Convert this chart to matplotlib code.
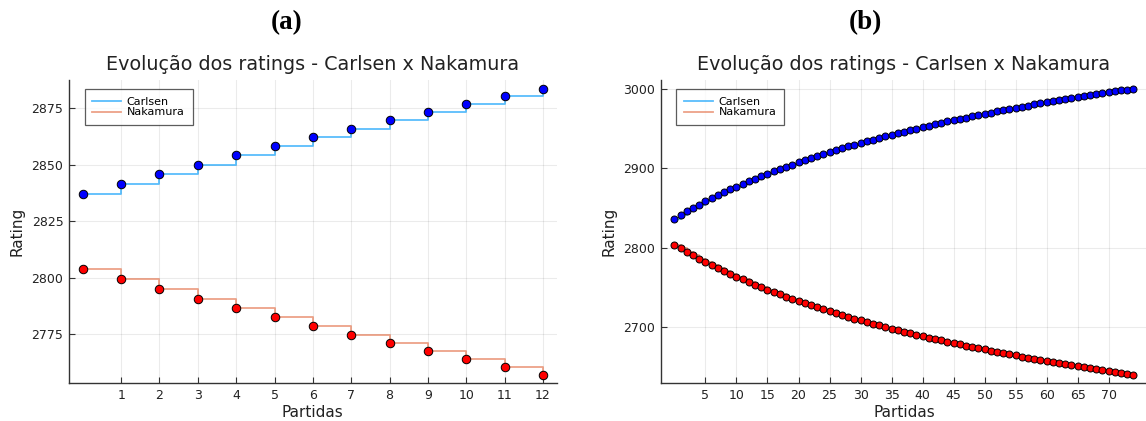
import matplotlib.pyplot as plt

# ratings game by game, Carlsen wins every game
carlsen = [2837.0, 2841.5, 2845.9, 2850.2, 2854.4, 2858.4, 2862.3, 2866.1, 2869.9, 2873.5,
           2877.0, 2880.4, 2883.8, 2887.0, 2890.2, 2893.3, 2896.3, 2899.3, 2902.1, 2904.9,
           2907.7, 2910.4, 2913.0, 2915.5, 2918.1, 2920.5, 2922.9, 2925.3, 2927.6, 2929.8,
           2932.0, 2934.2, 2936.3, 2938.4, 2940.5, 2942.5, 2944.4, 2946.4, 2948.3, 2950.1,
           2952.0, 2953.8, 2955.6, 2957.3, 2959.0, 2960.7, 2962.4, 2964.0, 2965.6, 2967.2,
           2968.8, 2970.3, 2971.8, 2973.3, 2974.8, 2976.2, 2977.6, 2979.0, 2980.4, 2981.8,
           2983.2, 2984.5, 2985.8, 2987.1, 2988.4, 2989.6, 2990.9, 2992.1, 2993.4, 2994.6,
           2995.7, 2996.9, 2998.1, 2999.2, 3000.4]
nakamura = [2804.0, 2799.5, 2795.1, 2790.8, 2786.6, 2782.6, 2778.7, 2774.9, 2771.1, 2767.5,
            2764.0, 2760.6, 2757.2, 2754.0, 2750.8, 2747.7, 2744.7, 2741.8, 2738.9, 2736.1,
            2733.3, 2730.6, 2728.0, 2725.5, 2722.9, 2720.5, 2718.1, 2715.7, 2713.4, 2711.2,
            2709.0, 2706.8, 2704.7, 2702.6, 2700.5, 2698.5, 2696.6, 2694.6, 2692.7, 2690.9,
            2689.0, 2687.2, 2685.4, 2683.7, 2682.0, 2680.3, 2678.6, 2677.0, 2675.4, 2673.8,
            2672.3, 2670.7, 2669.2, 2667.7, 2666.2, 2664.8, 2663.4, 2662.0, 2660.6, 2659.2,
            2657.8, 2656.5, 2655.2, 2653.9, 2652.6, 2651.4, 2650.1, 2648.9, 2647.7, 2646.5,
            2645.3, 2644.1, 2642.9, 2641.8, 2640.6]

n_a = 13  # panel (a) shows the first 12 games
xticks_a = list(range(1, 13))
yticks_a = [2775, 2800, 2825, 2850, 2875]
xticks_b = list(range(5, 75, 5))
yticks_b = [2700, 2800, 2900, 3000]

c_line = "#009AFA"
n_line = "#E36F47"
txt = "#222222"

fig = plt.figure(figsize=(11.46, 4.21), dpi=100)
ax_a = fig.add_axes([0.0602, 0.0896, 0.4256, 0.7204])
ax_b = fig.add_axes([0.5765, 0.0896, 0.4246, 0.7204])

panels = [(ax_a, n_a, xticks_a, yticks_a, 8.5),
          (ax_b, len(carlsen), xticks_b, yticks_b, 7)]

for ax, n, xt, yt, msize in panels:
    x = list(range(n))
    ax.plot(x, carlsen[:n], drawstyle="steps-post", color=c_line, alpha=0.65, lw=1.3, label="Carlsen")
    ax.plot(x, nakamura[:n], drawstyle="steps-post", color=n_line, alpha=0.65, lw=1.3, label="Nakamura")
    ax.scatter(x, carlsen[:n], s=(msize * 0.72) ** 2, color="#0000FF", edgecolor="black", linewidth=0.7, zorder=3)
    ax.scatter(x, nakamura[:n], s=(msize * 0.72) ** 2, color="#FF0000", edgecolor="black", linewidth=0.7, zorder=3)
    ax.margins(x=0.03, y=0.03)
    ax.set_xticks(xt)
    ax.set_yticks(yt)
    ax.grid(True, color="black", alpha=0.08, lw=0.8)
    ax.set_axisbelow(True)
    for s in ["top", "right"]:
        ax.spines[s].set_visible(False)
    for s in ["left", "bottom"]:
        ax.spines[s].set_color("#333333")
        ax.spines[s].set_linewidth(1.0)
    ax.tick_params(direction="in", length=4, width=0.8, color="#333333", labelsize=9, labelcolor=txt, pad=4)
    ax.set_title("Evolução dos ratings - Carlsen x Nakamura", fontsize=13.8, color=txt, pad=7)
    ax.set_xlabel("Partidas", fontsize=11, color=txt, labelpad=2)
    ax.set_ylabel("Rating", fontsize=11, color=txt, labelpad=5)
    leg = ax.legend(loc="upper left", fontsize=8, frameon=True, fancybox=False, mode="expand",
                    handlelength=2.6, handletextpad=0.5, borderpad=0.7, labelspacing=0.05,
                    borderaxespad=0, bbox_to_anchor=(0.032, 0.848, 0.222, 0.122))
    leg.get_frame().set_edgecolor("#333333")
    leg.get_frame().set_linewidth(0.9)

fig.text(0.25, 0.947, "(a)", ha="center", va="center", fontsize=19.5, fontweight="bold", family="Liberation Serif")
fig.text(0.755, 0.947, "(b)", ha="center", va="center", fontsize=19.5, fontweight="bold", family="Liberation Serif")

fig.savefig("out.png", dpi=100)
